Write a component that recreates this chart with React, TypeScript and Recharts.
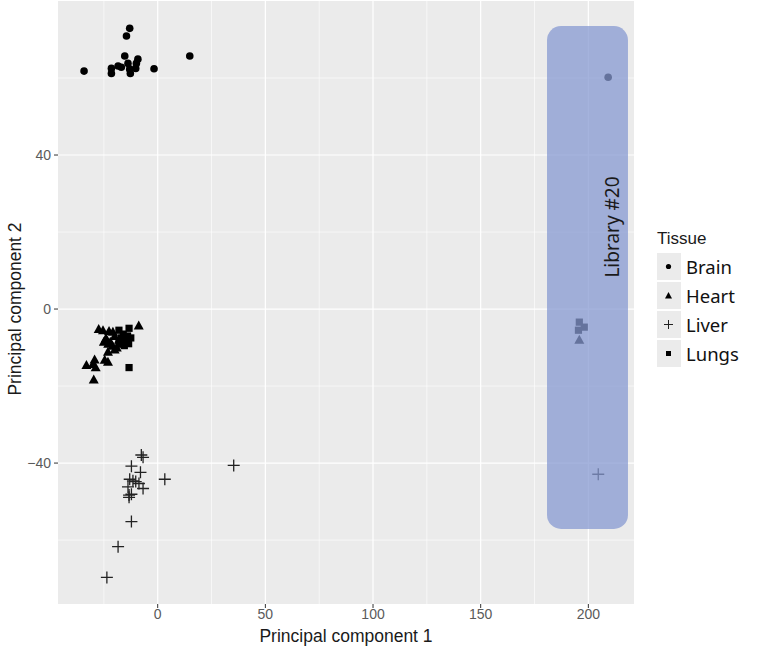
import {
  ScatterChart,
  Scatter,
  XAxis,
  YAxis,
  CartesianGrid,
  ReferenceLine,
  ReferenceArea,
  ReferenceDot,
} from "recharts";

document.body.style.margin = "0";

/* ── Data ──────────────────────────────────────────────── */

const brain = [
  { x: -34.2, y: 61.8 }, { x: -13.0, y: 72.9 }, { x: -14.5, y: 70.9 },
  { x: -15.3, y: 65.7 }, { x: -21.5, y: 62.5 }, { x: -21.5, y: 61.2 },
  { x: -18.4, y: 63.1 }, { x: -16.9, y: 62.8 }, { x: -13.8, y: 63.8 },
  { x: -13.0, y: 62.3 }, { x: -12.7, y: 61.2 }, { x: -10.2, y: 62.5 },
  { x: -9.2, y: 64.9 }, { x: -9.9, y: 63.8 }, { x: -1.7, y: 62.4 },
  { x: 14.9, y: 65.7 }, { x: 209.2, y: 60.2 },
];

const heart = [
  { x: -8.8, y: -4.3 }, { x: -27.4, y: -5.2 }, { x: -25.4, y: -5.5 },
  { x: -22.6, y: -5.7 }, { x: -20.8, y: -5.9 }, { x: -24, y: -7.5 },
  { x: -22, y: -8.5 }, { x: -20, y: -7 }, { x: -18, y: -8 },
  { x: -21, y: -9.5 }, { x: -23, y: -9 }, { x: -19, y: -10 },
  { x: -17, y: -9 }, { x: -16, y: -7.5 }, { x: -25, y: -8.5 },
  { x: -20, y: -10.5 }, { x: -23.1, y: -11.1 }, { x: -24.6, y: -13.2 },
  { x: -23.1, y: -13.7 }, { x: -29.3, y: -13.1 }, { x: -33.1, y: -14.5 },
  { x: -30.1, y: -14.3 }, { x: -28.8, y: -15.1 }, { x: -29.7, y: -18.3 },
  { x: 195.8, y: -8 },
];

const liver = [
  { x: -7.6, y: -37.9 }, { x: -6.8, y: -38.5 }, { x: -12.2, y: -40.8 },
  { x: -8.0, y: -42.4 }, { x: -13.0, y: -44.2 }, { x: -10.2, y: -44.8 },
  { x: -8.7, y: -45.3 }, { x: -13.8, y: -46.2 }, { x: -6.8, y: -46.6 },
  { x: -13.3, y: -48.3 }, { x: -12.2, y: -48.1 }, { x: -13.3, y: -48.9 },
  { x: -11.5, y: -44.6 }, { x: 3.3, y: -44.2 }, { x: 35.3, y: -40.6 },
  { x: -12.2, y: -55.2 }, { x: -18.4, y: -61.7 }, { x: -23.6, y: -69.7 },
  { x: 204.6, y: -42.9 },
];

const lungs = [
  { x: -18, y: -5.5 }, { x: -13.3, y: -5.0 }, { x: -13.3, y: -15.2 },
  { x: -16, y: -6.5 }, { x: -15, y: -8 }, { x: -14, y: -7 },
  { x: -17, y: -7.5 }, { x: -13.5, y: -9 }, { x: -15.5, y: -9.5 },
  { x: -12.5, y: -7.5 }, { x: -18, y: -9 },
  { x: 195.8, y: -3.4 }, { x: 198.1, y: -4.7 }, { x: 195.4, y: -5.5 },
];

const xTicks = [0, 50, 100, 150, 200];
const yTicks = [-40, 0, 40];
const xMinor = [-25, 25, 75, 125, 175];
const yMinor = [-60, -20, 20, 60];

const tissues = ["Brain", "Heart", "Liver", "Lungs"];

// highlighted library region
const libBox = { x1: 180.8, x2: 218.4, y1: -57.1, y2: 73.5 };
const libLabel = { x: 211, y: 21.3, text: "Library #20" };

/* ── Shapes ────────────────────────────────────────────── */

type P = { cx?: number; cy?: number };

const DotShape = ({ cx = 0, cy = 0 }: P) => (
  <circle cx={cx} cy={cy} r={3.8} fill="#000" />
);

const TriShape = ({ cx = 0, cy = 0 }: P) => (
  <polygon
    points={`${cx},${cy - 5} ${cx - 5},${cy + 4} ${cx + 5},${cy + 4}`}
    fill="#000"
  />
);

const PlusShape = ({ cx = 0, cy = 0 }: P) => (
  <path
    d={`M${cx - 6},${cy}H${cx + 6}M${cx},${cy - 6}V${cy + 6}`}
    stroke="#222"
    strokeWidth={1.3}
    fill="none"
  />
);

const SquareShape = ({ cx = 0, cy = 0 }: P) => (
  <rect x={cx - 3.6} y={cy - 3.6} width={7.2} height={7.2} fill="#000" />
);

const LEGEND_ICONS: Record<string, JSX.Element> = {
  Brain: <circle cx={11.5} cy={13.5} r={2.6} fill="#000" />,
  Heart: <polygon points="11.5,10 8,16.5 15,16.5" fill="#000" />,
  Liver: (
    <path d="M7,13.5H16M11.5,9V18" stroke="#222" strokeWidth={1} />
  ),
  Lungs: <rect x={9} y={11} width={5} height={5} fill="#000" />,
};

const FONT = "Liberation Sans, Arial, sans-serif";
const TICK = { fontSize: 14, fill: "#5a5a5a", fontFamily: FONT };
const fmtTick = (v: number) => String(v).replace("-", "\u2212");

export default function App() {
  return (
    <div style={{ position: "relative", width: 761, height: 658, background: "#fff" }}>
      <ScatterChart
        width={761}
        height={658}
        margin={{ top: 1, right: 127, bottom: 0, left: 0 }}
      >
        <CartesianGrid
          fill="#EBEBEB"
          stroke="#fff"
          strokeWidth={1.2}
          verticalValues={xTicks}
          horizontalValues={yTicks}
        />
        {xMinor.map((v) => (
          <ReferenceLine key={`vx${v}`} x={v} stroke="#fff" strokeWidth={0.6} />
        ))}
        {yMinor.map((v) => (
          <ReferenceLine key={`hy${v}`} y={v} stroke="#fff" strokeWidth={0.6} />
        ))}
        <XAxis
          type="number"
          dataKey="x"
          domain={[-46.3, 221.2]}
          ticks={xTicks}
          allowDataOverflow
          height={54}
          axisLine={false}
          tickSize={4}
          tickMargin={1}
          tickLine={{ stroke: "#333" }}
          tick={TICK}
          tickFormatter={fmtTick}
          label={{
            content: () => (
              <text
                x={346}
                y={642}
                textAnchor="middle"
                fontSize={17.5}
                fill="#1a1a1a"
                fontFamily={FONT}
              >
                Principal component 1
              </text>
            ),
          }}
        />
        <YAxis
          type="number"
          dataKey="y"
          domain={[-76.6, 80]}
          ticks={yTicks}
          allowDataOverflow
          width={58}
          axisLine={false}
          tickSize={4}
          tickMargin={3}
          tickLine={{ stroke: "#333" }}
          tick={TICK}
          tickFormatter={fmtTick}
          label={{
            content: () => (
              <text
                x={15}
                y={309}
                transform="rotate(-90 15 309)"
                textAnchor="middle"
                dominantBaseline="central"
                fontSize={17.5}
                fill="#1a1a1a"
                fontFamily={FONT}
              >
                Principal component 2
              </text>
            ),
          }}
        />
        <Scatter name="Brain" data={brain} shape={DotShape} isAnimationActive={false} />
        <Scatter name="Heart" data={heart} shape={TriShape} isAnimationActive={false} />
        <Scatter name="Liver" data={liver} shape={PlusShape} isAnimationActive={false} />
        <Scatter name="Lungs" data={lungs} shape={SquareShape} isAnimationActive={false} />
        <ReferenceArea
          x1={libBox.x1}
          x2={libBox.x2}
          y1={libBox.y1}
          y2={libBox.y2}
          zIndex={1000}
          shape={(p: any) => (
            <rect
              x={p.x}
              y={p.y}
              width={p.width}
              height={p.height}
              rx={14}
              ry={14}
              fill="rgb(135,154,210)"
              fillOpacity={0.75}
            />
          )}
        />
        <ReferenceDot
          x={libLabel.x}
          y={libLabel.y}
          zIndex={1100}
          shape={(p: any) => (
            <text
              x={p.cx}
              y={p.cy}
              transform={`rotate(-90 ${p.cx} ${p.cy})`}
              textAnchor="middle"
              dominantBaseline="central"
              fontSize={19}
              fill="#1a1a1a"
              fontFamily="Noto Sans, Open Sans, sans-serif"
            >
              {libLabel.text}
            </text>
          )}
        />
      </ScatterChart>

      <div
        style={{
          position: "absolute",
          left: 657,
          top: 229,
          fontFamily: "Noto Sans, Open Sans, sans-serif",
        }}
      >
        <div
          style={{
            fontSize: 17,
            color: "#1a1a1a",
            fontFamily: FONT,
            marginBottom: 3,
          }}
        >
          Tissue
        </div>
        {tissues.map((t) => (
          <div key={t} style={{ display: "flex", alignItems: "center", height: 29 }}>
            <svg width={24} height={27} style={{ background: "#EBEBEB", display: "block" }}>
              {LEGEND_ICONS[t]}
            </svg>
            <span style={{ fontSize: 18.5, color: "#111", marginLeft: 5 }}>{t}</span>
          </div>
        ))}
      </div>
    </div>
  );
}
